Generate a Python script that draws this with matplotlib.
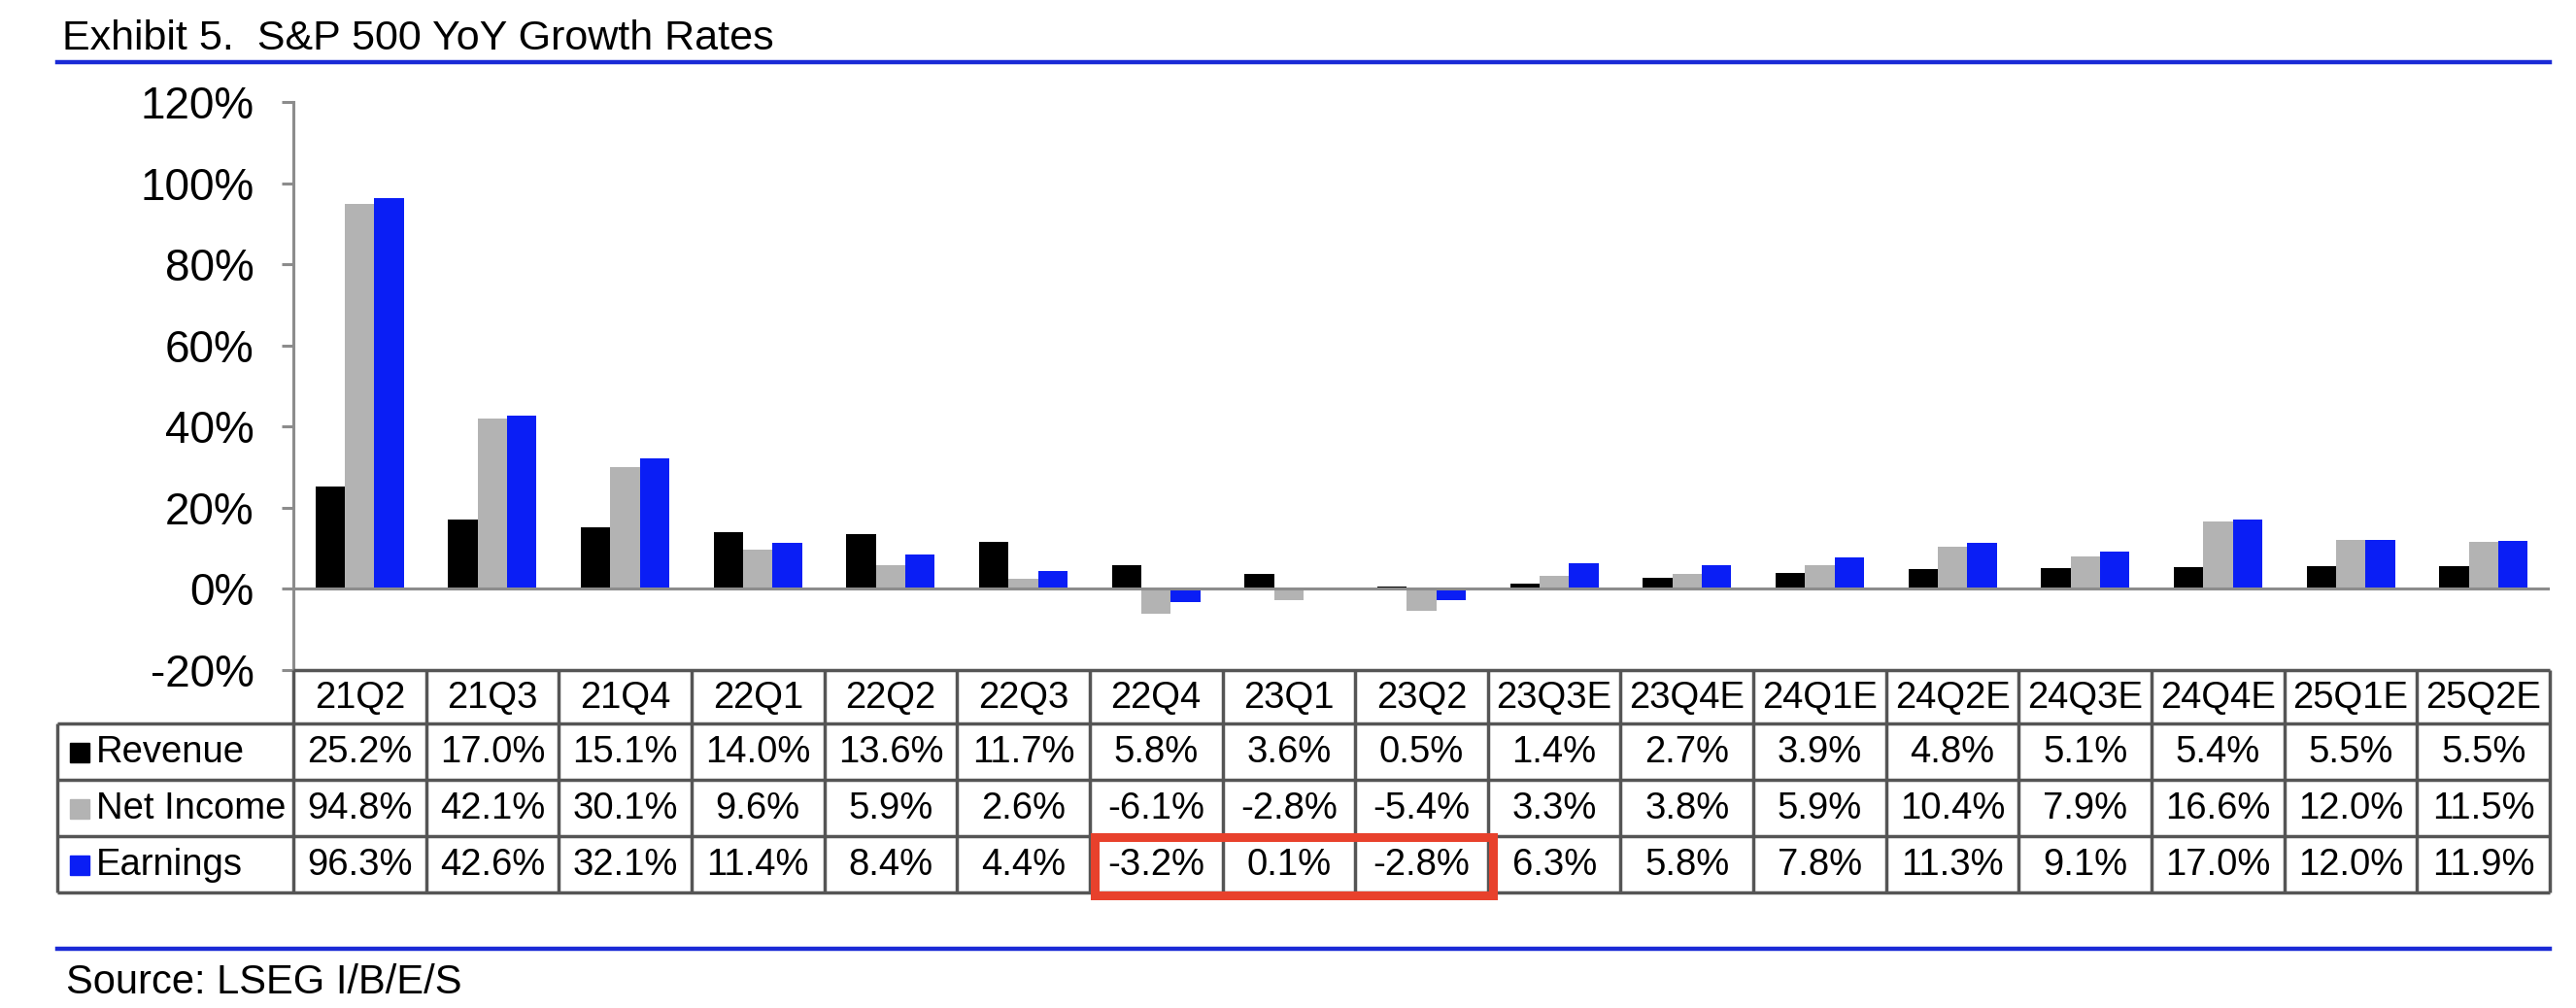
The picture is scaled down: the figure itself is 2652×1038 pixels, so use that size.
import matplotlib
matplotlib.use("Agg")
import matplotlib.pyplot as plt
from matplotlib.lines import Line2D
from matplotlib.patches import Rectangle
from matplotlib.ticker import FuncFormatter
import numpy as np

plt.rcParams['font.family'] = ['Liberation Sans', 'DejaVu Sans']

# Data
quarters = ['21Q2', '21Q3', '21Q4', '22Q1', '22Q2', '22Q3', '22Q4', '23Q1', '23Q2',
            '23Q3E', '23Q4E', '24Q1E', '24Q2E', '24Q3E', '24Q4E', '25Q1E', '25Q2E']
revenue = [25.2, 17.0, 15.1, 14.0, 13.6, 11.7, 5.8, 3.6, 0.5, 1.4, 2.7, 3.9, 4.8, 5.1, 5.4, 5.5, 5.5]
net_income = [94.8, 42.1, 30.1, 9.6, 5.9, 2.6, -6.1, -2.8, -5.4, 3.3, 3.8, 5.9, 10.4, 7.9, 16.6, 12.0, 11.5]
earnings = [96.3, 42.6, 32.1, 11.4, 8.4, 4.4, -3.2, 0.1, -2.8, 6.3, 5.8, 7.8, 11.3, 9.1, 17.0, 12.0, 11.9]
series_names = ['Revenue', 'Net Income', 'Earnings']
highlight = ['22Q4', '23Q1', '23Q2']

# Styles
colors = ['#000000', '#b3b3b3', '#0a1ef5']
rule_blue = '#1a2ad6'
grid_gray = '#555555'
axis_gray = '#8c8c8c'

W, H = 2652, 1038
fig = plt.figure(figsize=(W / 100, H / 100), dpi=100)

# layout in pixels
plot_left, plot_right = 302, 2625
plot_top, plot_bottom = 105, 690
table_left, table_bottom = 59, 919
col_w = (plot_right - plot_left) / len(quarters)

# Chart
ax = fig.add_axes([plot_left / W, 1 - plot_bottom / H,
                   (plot_right - plot_left) / W, (plot_bottom - plot_top) / H])
x = np.arange(len(quarters))
w = 0.222
for k, vals in enumerate([revenue, net_income, earnings]):
    ax.bar(x + (k - 1) * w, vals, w, color=colors[k], zorder=2)
ax.set_xlim(-0.5, len(quarters) - 0.5)
ax.set_ylim(-20, 120)
ax.set_yticks(range(-20, 121, 20))
ax.yaxis.set_major_formatter(FuncFormatter(lambda v, p: f"{v:.0f}%"))
ax.set_xticks([])
ax.tick_params(axis='y', labelsize=33, length=9, width=2.2, color=axis_gray, pad=20)
for s in ['top', 'right', 'bottom']:
    ax.spines[s].set_visible(False)
ax.spines['left'].set_color(axis_gray)
ax.spines['left'].set_linewidth(2.2)
ax.axhline(0, color=axis_gray, lw=2.2, zorder=3)

# Table
tax = fig.add_axes([table_left / W, 1 - table_bottom / H,
                    (plot_right - table_left) / W, (table_bottom - plot_bottom) / H])
x_left = -0.5 - (plot_left - table_left) / col_w
n = len(quarters)
tax.set_xlim(x_left, n - 0.5)
row_edges = [0, 55, 113, 171, 229]
tax.set_ylim(row_edges[-1], 0)
tax.axis('off')

lw_grid = 2.5
tax.hlines(row_edges[0], -0.5, n - 0.5, color=grid_gray, lw=lw_grid, clip_on=False)
tax.hlines(row_edges[1:], x_left, n - 0.5, color=grid_gray, lw=lw_grid, clip_on=False)
tax.vlines([x_left], row_edges[1], row_edges[-1], color=grid_gray, lw=lw_grid, clip_on=False)
tax.vlines(np.arange(n + 1) - 0.5, row_edges[0], row_edges[-1], color=grid_gray,
           lw=lw_grid, clip_on=False)

fs = 27.5
for i, q in enumerate(quarters):
    tax.text(i, (row_edges[0] + row_edges[1]) / 2 + 1, q, ha='center', va='center', fontsize=fs)
for r, vals in enumerate([revenue, net_income, earnings]):
    yc = (row_edges[r + 1] + row_edges[r + 2]) / 2 + 1
    for i, v in enumerate(vals):
        tax.text(i, yc, f"{v:.1f}%", ha='center', va='center', fontsize=fs)
    tax.plot([x_left + 23 / col_w], [yc], marker='s', markersize=14, color=colors[r],
             clip_on=False)
    tax.text(x_left + 40 / col_w, yc, series_names[r], ha='left', va='center', fontsize=fs)

# highlight box
i0 = quarters.index(highlight[0])
i1 = quarters.index(highlight[-1])
tax.add_patch(Rectangle((i0 - 0.5 + 5 / col_w, row_edges[3] + 1), i1 - i0 + 1,
                        row_edges[4] - row_edges[3] + 2, fill=False, edgecolor='#e8412c',
                        lw=6.5, clip_on=False, zorder=5))

# Title, rules, source
fig.text(64 / W, 1 - 51 / H, 'Exhibit 5.  S&P 500 YoY Growth Rates', fontsize=31,
         ha='left', va='baseline')
fig.add_artist(Line2D([59 / W, 2625 / W], [1 - 64 / H, 1 - 64 / H], color=rule_blue, lw=3.2))
fig.add_artist(Line2D([59 / W, 2625 / W], [1 - 977 / H, 1 - 977 / H], color=rule_blue, lw=3.2))
fig.text(68 / W, 1 - 1023 / H, 'Source: LSEG I/B/E/S', fontsize=30, ha='left', va='baseline')

fig.savefig('out.png', dpi=100)
